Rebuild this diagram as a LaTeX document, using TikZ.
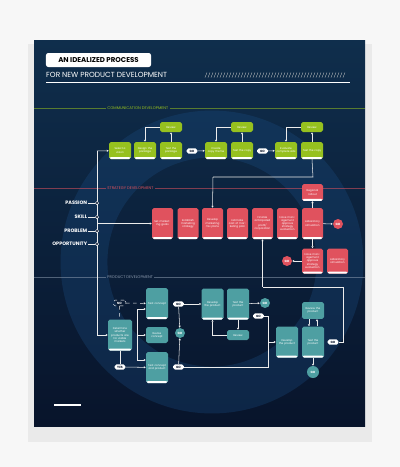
\documentclass[tikz,border=0pt]{standalone}
\usepackage{fontspec}
\setmainfont{Poppins}
\usetikzlibrary{positioning,arrows.meta}

\definecolor{navy}{HTML}{08142B}
\definecolor{navytop}{HTML}{0F2E4C}
\definecolor{ringblue}{HTML}{1B4F86}
\definecolor{leaf}{HTML}{96C11F}
\definecolor{coral}{HTML}{E0525E}
\definecolor{seagreen}{HTML}{4E9FA2}
\definecolor{greyline}{HTML}{8C9AAE}

\newcommand{\boxfont}{\fontsize{2.3}{2.7}\selectfont}
\newcommand{\pillfont}{\fontsize{2.6}{3}\selectfont\bfseries}

\tikzset{
  box/.style={rounded corners=1.5pt, inner sep=0.4pt, align=center, font=\boxfont, text=white,
    path picture={\fill[white] ([yshift=1.6pt]path picture bounding box.south west) rectangle (path picture bounding box.south east);}},
  gbox/.style={box, fill=leaf, minimum width=0.66cm, minimum height=0.51cm, text width=0.58cm},
  grev/.style={rounded corners=1.5pt, fill=leaf, minimum width=0.66cm, minimum height=0.3cm, font=\boxfont, text=white, inner sep=0pt},
  rbox/.style={box, fill=coral, minimum width=0.63cm, minimum height=0.93cm, text width=0.56cm},
  tbox/.style={box, fill=seagreen, minimum width=0.66cm, minimum height=0.93cm, text width=0.58cm},
  trev/.style={rounded corners=1.5pt, fill=seagreen, minimum width=0.66cm, font=\boxfont, text=white, inner sep=0pt, align=center, text width=0.58cm},
  pill/.style={fill=white, rounded corners=1.5pt, minimum width=0.32cm, minimum height=0.16cm, inner sep=0pt, font=\pillfont, text=navy},
  gocirc/.style={circle, minimum size=0.3cm, inner sep=0pt, font=\pillfont, text=white},
  dot/.style={circle, draw=white, fill=navy, line width=0.4pt, minimum size=0.1cm, inner sep=0pt},
  seclabel/.style={font=\fontsize{3.3}{4}\selectfont, inner sep=1pt},
  secline/.style={line width=0.35pt, opacity=0.55},
  sidelabel/.style={font=\fontsize{4.2}{5}\selectfont\bfseries, text=white, inner sep=0.5pt},
  wire/.style={white!85!gray, line width=0.45pt},
  arr/.style={wire, -{Triangle[length=1.7pt,width=1.8pt]}}
}

\begin{document}
\begin{tikzpicture}[x=0.03cm,y=-0.03cm]
\useasboundingbox (0,0) rectangle (400,467);
% page and panel
\fill[gray!6] (0,0) rectangle (400,467);
\fill[black,opacity=0.05] (28,44) rectangle (372,442);
\shade[top color=navytop, bottom color=navy] (34,40) rectangle (365,426);
\begin{scope}
\clip (34,40) rectangle (365,426);
\draw[ringblue, line width=40pt, opacity=0.3] (212,262) circle (128);
\end{scope}

% title
\node[fill=white, rounded corners=2pt, minimum width=3.15cm, minimum height=0.42cm, inner sep=0pt,
  font=\fontsize{6}{7}\selectfont\bfseries, text=black] (title) at (98.5,60) {AN IDEALIZED PROCESS};
\node[anchor=west, font=\fontsize{6.3}{7}\selectfont, text=white, inner sep=0pt] (sub) at (46,75) {FOR NEW PRODUCT DEVELOPMENT};
\foreach \i in {0,...,46}
  \draw[gray!45, line width=0.3pt] ({205+3*\i},77.5) -- ({207+3*\i},72.5);
\draw[white, line width=0.6pt] (46,82) -- (350,82);
\draw[white, line width=1.6pt] (54,405) -- (81,405);

% section lines
\node[seclabel, text=leaf, anchor=west] (comm) at (106,108) {COMMUNICATION DEVELOPMENT};
\draw[secline, leaf] (34,108) -- (comm.west);
\draw[secline, leaf] (comm.east) -- (365,108);
\node[seclabel, text=coral, anchor=west] (strat) at (106,188) {STRATEGY DEVELOPMENT};
\draw[secline, coral] (34,188) -- (strat.west);
\draw[secline, coral] (strat.east) -- (365,188);
\node[seclabel, text=greyline, anchor=west] (prod) at (106,277) {PRODUCT DEVELOPMENT};
\draw[secline, greyline] (34,277) -- (prod.west);
\draw[secline, greyline] (prod.east) -- (365,277);

% communication development
\node[gbox] (g1) at (120,150.5) {Select a vision};
\node[gbox] (g2) at (145,150.5) {Design the package};
\node[gbox] (g3) at (171,150.5) {Test the package};
\node[pill] (go1) at (192,151) {GO};
\node[gbox] (g4) at (216,150.5) {Create copy theme};
\node[gbox] (g5) at (242,150.5) {Test the copy};
\node[pill] (go2) at (262.5,151) {GO};
\node[gbox] (g6) at (286,150.5) {Evaluate complete ads};
\node[gbox] (g7) at (312,150.5) {Test the copy};
\node[grev] (rv1) at (171,127) {Review};
\node[grev] (rv2) at (242,127) {Review};
\node[grev] (rv3) at (312,127) {Review};
\draw[arr] (rv1.west) -| (g2.north);
\draw[arr] (rv2.west) -| (g4.north);
\draw[arr] (rv3.west) -| (g6.north);
\draw[arr] (g3) -- (rv1);
\draw[arr] (g5) -- (rv2);
\draw[arr] (g7) -- (rv3);
\draw[arr] (go1) -- (g4);
\draw[arr] (go2) -- (g6);

% strategy development
\node[rbox] (r1) at (162.5,223.5) {Set marketing goals};
\node[rbox] (r2) at (188,223.5) {Establish marketing strategy};
\node[rbox] (r3) at (212.5,223.5) {Develop marketing mix plans};
\node[rbox] (r4) at (237.5,223.5) {Estimate cost of marketing plan};
\node[rbox] (r5) at (262.5,223.5) {Finalize anticipated profit/ corporation};
\node[rbox] (r6) at (287.5,223.5) {Have management approve strategy evaluation};
\node[rbox] (r7) at (312.5,223.5) {Laboratory simulation};
\node[rbox, minimum height=0.5cm] (roll) at (312.5,192.5) {Regional rollout};
\node[rbox, minimum height=0.75cm] (r8) at (312.5,261) {Have management approve strategy evaluation};
\node[rbox, minimum height=0.75cm] (r9) at (337.5,261) {Laboratory simulation};
\node[gocirc, fill=coral] (c1) at (338,224) {GO};
\node[gocirc, fill=coral] (c2) at (287,261) {GO};
\draw[arr] (r7) -- (roll);
\draw[arr] (r7) -- (r8);
\draw[arr] (r7) -- (c1);
\draw[arr] (r8) -- (c2);
\coordinate (k1) at (313,177);
\coordinate (k2) at (213,177);
\draw[wire] (g7.south) -- (k1) -- (k2);
\draw[arr] (k2) -- (r3.north);

% left inputs
\coordinate (vtop) at (97,151);
\coordinate (vmid) at (97,223.5);
\coordinate (vbot) at (97,335);
\draw[wire] (vtop) -- (vbot);
\foreach \lab/\y/\nm in {PASSION/203/pa, SKILL/217/sk, PROBLEM/231/pr, OPPORTUNITY/244/op}{
  \node[sidelabel, anchor=east] (\nm) at (88,\y) {\lab};
  \node[dot] (\nm-d) at (97,\y) {};
  \draw[wire] (\nm) -- (\nm-d);
}
\draw[arr] (vtop) -- (g1);
\draw[arr] (vmid) -- (r1);

% product development
\node[tbox, minimum width=0.72cm, text width=0.64cm] (det) at (120,335) {Determine whether products are for viable markets};
\node[draw=white, dashed, rounded corners=1.5pt, minimum width=0.38cm, minimum height=0.17cm, inner sep=0pt, font=\pillfont, text=white] (no) at (119.5,303) {NO};
\node[pill] (yes) at (120,367) {YES};
\node[tbox] (tc) at (157,303.5) {Test concept};
\node[trev, minimum height=0.48cm] (rc) at (157,335) {Revise concept};
\node[tbox] (tcp) at (157,367.5) {Test concept and product};
\node[pill] (go3) at (178.5,304) {GO};
\node[pill] (go4) at (178.5,367) {GO};
\node[gocirc, fill=seagreen] (c3) at (180,333) {GO};
\draw[arr] (vbot) -- (det);
\draw[wire, dashed] (no) -- (det);
\draw[arr, dashed] (no) -- (tc);
\draw[wire] (det) -- (yes);
\draw[arr] (yes) -- (tcp);
\coordinate (b1) at (137,309);
\coordinate (b2) at (137,335);
\coordinate (b3) at (137,360);
\draw[wire] (b1) -- (b3);
\draw[arr] (b1) -- (b1 -| tc.west);
\draw[arr] (b2) -- (rc);
\draw[arr] (b3) -- (b3 -| tcp.west);
\draw[arr] (go3) -- (c3);
\draw[arr] (go4) -- (c3);

\node[tbox] (dp1) at (212.5,304) {Develop the product};
\node[tbox] (tp1) at (238,304) {Test the product};
\node[gocirc, fill=seagreen] (c4) at (265,303) {GO};
\node[trev, minimum height=0.3cm] (rv4) at (238,335) {Review};
\node[pill] (go5) at (258.5,316) {GO};
\draw[arr] (go3) -- (dp1);
\draw[arr] (tp1) -- (c4);
\draw[arr] (tp1) -- (rv4);
\draw[arr] (rv4.west) -| (dp1.south);

\node[tbox] (dp2) at (287,342) {Develop the product};
\node[tbox] (tp2) at (313,342) {Test the product};
\node[trev, minimum height=0.5cm] (rv5) at (313,310.5) {Review the product};
\node[pill] (go6) at (333,342) {GO};
\node[gocirc, fill=seagreen, minimum size=0.36cm] (c5) at (313,372) {GO};
\coordinate (j1) at (268,316);
\coordinate (j2) at (268,342);
\coordinate (j3) at (268,367);
\draw[wire] (go5) -- (j1) -- (j3) -- (go4);
\draw[arr] (j2) -- (dp2);
\draw[arr] ([xshift=-0.12cm]rv5.south) -- ([xshift=-0.12cm]tp2.north);
\draw[arr] ([xshift=0.12cm]tp2.north) -- ([xshift=0.12cm]rv5.south);
\draw[arr] (tp2) -- (c5);
\coordinate (m1) at (343,342);
\coordinate (m2) at (343,287);
\coordinate (m3) at (262.5,287);
\draw[wire] (go6) -- (m1) -- (m2) -- (m3);
\draw[arr] (m3) -- (r5.south);
\end{tikzpicture}
\end{document}
